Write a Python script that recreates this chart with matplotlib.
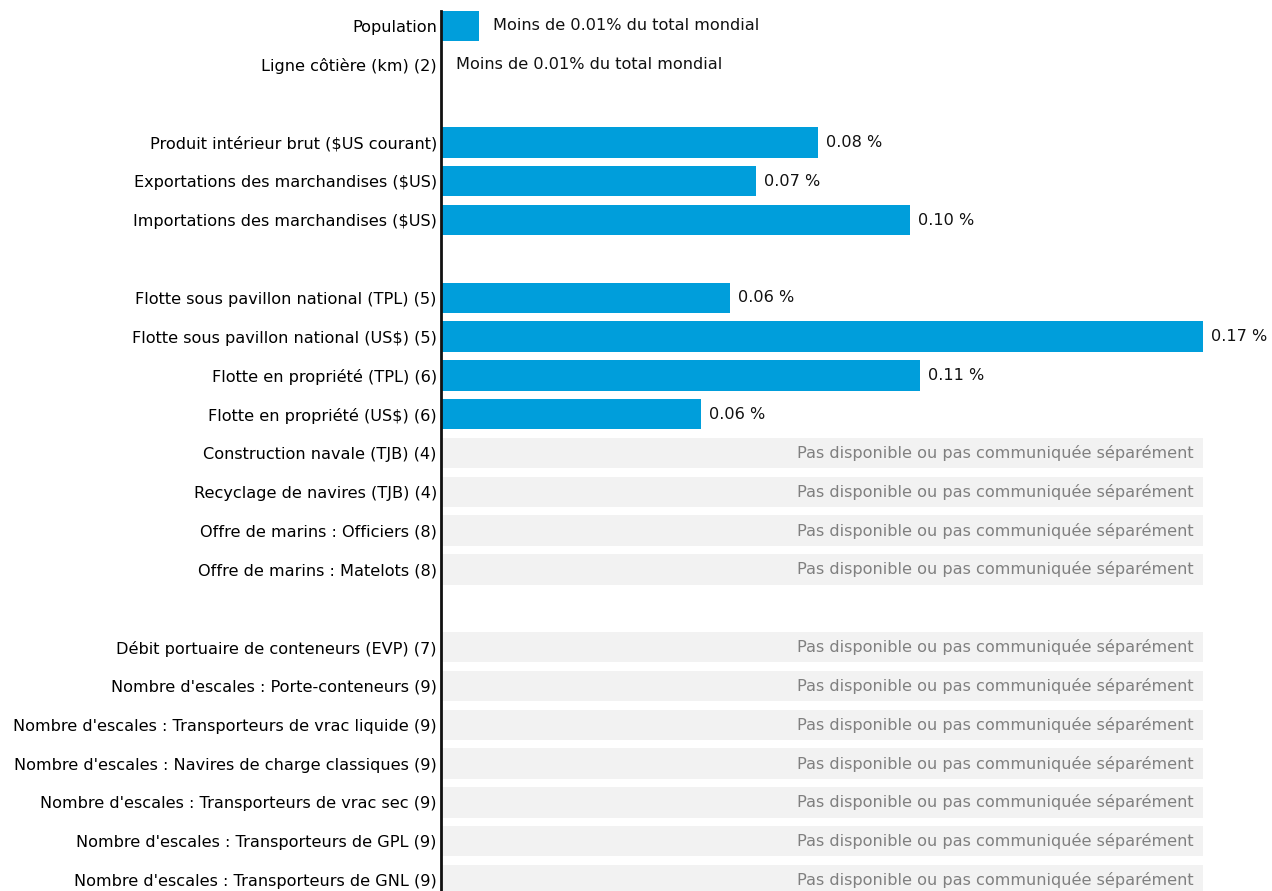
import numpy as np
import matplotlib
matplotlib.use("Agg")
from matplotlib import pyplot as plt

# Categories (None = blank spacer row)
categories = [
    "Population",
    "Ligne côtière (km) (2)",
    None,
    "Produit intérieur brut ($US courant)",
    "Exportations des marchandises ($US)",
    "Importations des marchandises ($US)",
    None,
    "Flotte sous pavillon national (TPL) (5)",
    "Flotte sous pavillon national (US$) (5)",
    "Flotte en propriété (TPL) (6)",
    "Flotte en propriété (US$) (6)",
    "Construction navale (TJB) (4)",
    "Recyclage de navires (TJB) (4)",
    "Offre de marins : Officiers (8)",
    "Offre de marins : Matelots (8)",
    None,
    "Débit portuaire de conteneurs (EVP) (7)",
    "Nombre d'escales : Porte-conteneurs (9)",
    "Nombre d'escales : Transporteurs de vrac liquide (9)",
    "Nombre d'escales : Navires de charge classiques (9)",
    "Nombre d'escales : Transporteurs de vrac sec (9)",
    "Nombre d'escales : Transporteurs de GPL (9)",
    "Nombre d'escales : Transporteurs de GNL (9)",
]

# share of world total (%); np.nan = not available
values = [0.0085, 0.0, None, 0.0841, 0.0703, 0.1046, None,
          0.0645, 0.17, 0.1069, 0.058,
          np.nan, np.nan, np.nan, np.nan, None,
          np.nan, np.nan, np.nan, np.nan, np.nan, np.nan, np.nan]

labels = ["Moins de 0.01% du total mondial", "Moins de 0.01% du total mondial", None,
          "0.08 %", "0.07 %", "0.10 %", None,
          "0.06 %", "0.17 %", "0.11 %", "0.06 %"] + [None] * 12

NA_TEXT = "Pas disponible ou pas communiquée séparément"
BLUE = "#009EDB"
XMAX = 0.17
FS = 11.6

plt.rcParams['font.family'] = ['DejaVu Sans']

fig = plt.figure(figsize=(12.72, 8.91), dpi=100)
ax = fig.add_axes([441 / 1272, 0, (1203 - 441) / 1272, 880 / 891])

ypos = np.arange(len(categories))
bar_h = 0.78

for y, cat, val, lab in zip(ypos, categories, values, labels):
    if cat is None:
        continue
    if val is not None and np.isnan(val):
        ax.barh(y, XMAX, height=bar_h, color="#F2F2F2")
        ax.annotate(NA_TEXT, (XMAX, y), xytext=(-6.5, 0), textcoords="offset points",
                    ha="right", va="center", fontsize=FS, color="#808080")
        continue
    if val > 0:
        ax.barh(y, val, height=bar_h, color=BLUE)
    if val > 0.01:
        off = 6
    elif val > 0:
        off = 10
    else:
        off = 11
    ax.annotate(lab, (val, y), xytext=(off, 0), textcoords="offset points",
                ha="left", va="center", fontsize=FS, color="#111111")

ax.set_yticks([y for y, c in zip(ypos, categories) if c is not None])
ax.set_yticklabels([c for c in categories if c is not None], fontsize=FS)
ax.tick_params(axis="y", length=0, pad=3)
ax.set_xticks([])
ax.set_xlim(0, XMAX)
ax.set_ylim(22 + 11 / 38.82, -15 / 38.82)
for s in ["top", "right", "bottom"]:
    ax.spines[s].set_visible(False)
ax.spines["left"].set_linewidth(2)
ax.spines["left"].set_color("#111111")

fig.savefig("out.png", dpi=100)
